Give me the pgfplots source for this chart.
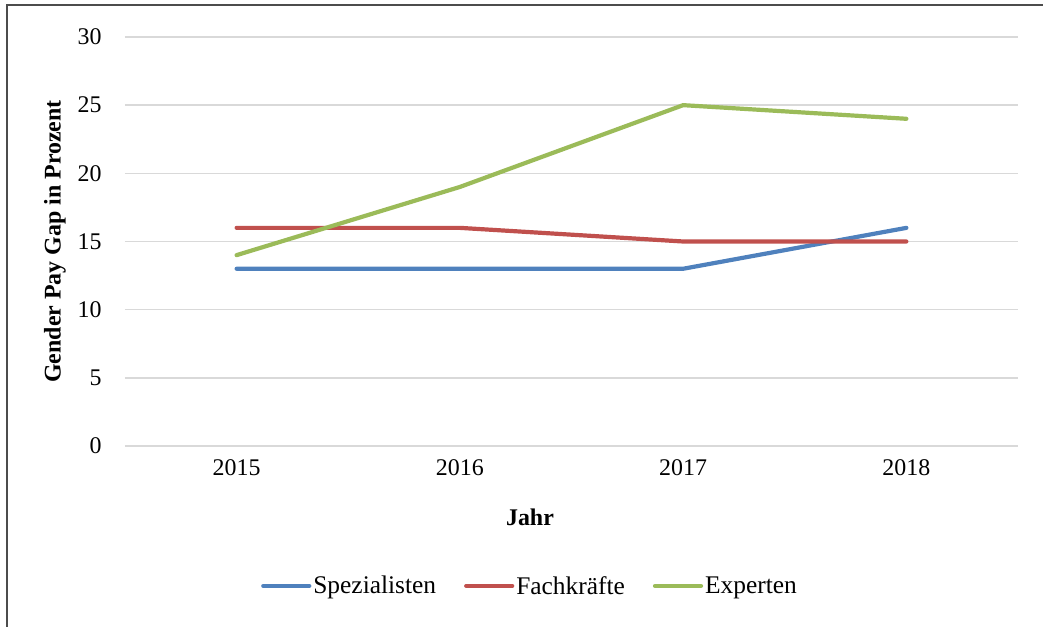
\documentclass[border=0pt]{standalone}
\usepackage{pgfplots}
\pgfplotsset{compat=1.18}
\usepackage{fontspec}
\setmainfont{Liberation Serif}
\definecolor{cblue}{RGB}{79,129,189}
\definecolor{cred}{RGB}{192,80,77}
\definecolor{cgreen}{RGB}{155,187,89}
\definecolor{cgrid}{RGB}{217,217,217}
\newcommand\chartfont{\fontsize{24}{28}\selectfont}
\newcommand\legfont{\fontsize{25.5}{30}\selectfont}
\begin{document}
\begin{tikzpicture}[x=1bp,y=1bp]
\useasboundingbox (-125,-181) rectangle (918,446);
\draw[black!70, line width=1.2bp] (-118,-185) -- (-118,441) -- (925,441);
\begin{axis}[
  at={(0,0)}, anchor=south west,
  scale only axis, width=893bp, height=409bp,
  xmin=-0.5, xmax=3.5, ymin=0, ymax=30,
  xtick={0,1,2,3}, xticklabels={2015,2016,2017,2018},
  ytick={0,5,10,15,20,25,30},
  axis line style={draw=none},
  tick style={draw=none},
  ymajorgrids, grid style={cgrid, line width=1.5bp},
  /pgf/number format/assume math mode=true,
  ticklabel style={font=\chartfont},
  yticklabel style={xshift=-20bp},
  xticklabel style={yshift=-10bp},
  xlabel={Jahr}, ylabel={Gender Pay Gap in Prozent},
  label style={font=\chartfont\bfseries},
  xlabel style={at={(axis description cs:0.4535,-0.174)}, anchor=center},
  ylabel style={at={(axis description cs:-0.0784,0.5)}, anchor=center},
  legend columns=3,
  legend style={at={(0.4535,-0.342)}, anchor=center, draw=none, font=\legfont,
    /tikz/every even column/.append style={column sep=26bp}, inner xsep=0pt},
  legend image code/.code={\draw[#1, line cap=round] (0,0) -- (46bp,0);},
  every axis plot/.append style={line width=4.2bp, line cap=round, line join=round},
]
\addplot[cblue] coordinates {(0,13) (1,13) (2,13) (3,16)};
\addlegendentry{Spezialisten}
\addplot[cred] coordinates {(0,16) (1,16) (2,15) (3,15)};
\addlegendentry{Fachkräfte}
\addplot[cgreen] coordinates {(0,14) (1,19) (2,25) (3,24)};
\addlegendentry{Experten}
\end{axis}
\end{tikzpicture}
\end{document}
